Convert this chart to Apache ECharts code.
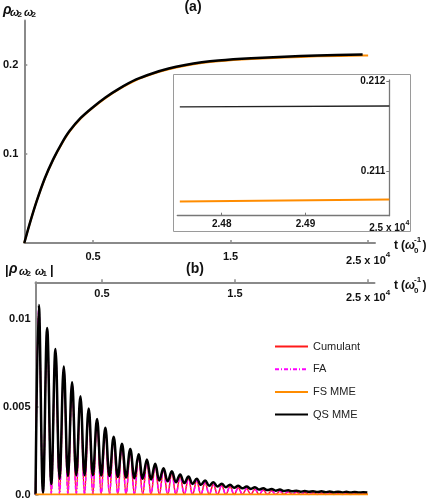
<!DOCTYPE html>
<html><head><meta charset="utf-8">
<script src="https://cdn.jsdelivr.net/npm/echarts@6/dist/echarts.min.js"></script>
<style>html,body{margin:0;padding:0;background:#fff}#c{width:432px;height:500px}</style>
</head><body><div id="c"></div>
<script>
// ---------- Panel (a): rho_{w2 w2} vs t (x 10^4) ----------
const aT   = [0, 0.04, 0.09, 0.15, 0.21, 0.27, 0.33, 0.41, 0.49, 0.59, 0.69, 0.81, 0.93, 1.05, 1.17, 1.29, 1.41, 1.65, 1.89, 2.13, 2.46];
const aQS  = [0, 0.022, 0.047, 0.073, 0.094, 0.1115, 0.126, 0.1405, 0.1515, 0.1635, 0.1735, 0.1835, 0.1905, 0.196, 0.2, 0.203, 0.205, 0.2075, 0.2093, 0.2106, 0.2117];
const aFST = [0, 0.04, 0.09, 0.15, 0.21, 0.27, 0.33, 0.41, 0.49, 0.59, 0.69, 0.81, 0.93, 1.05, 1.17, 1.29, 1.41, 1.65, 1.89, 2.13, 2.46, 2.50];
const aFS  = [0, 0.022, 0.047, 0.0725, 0.0934, 0.1108, 0.1253, 0.1398, 0.1508, 0.1628, 0.1728, 0.1827, 0.1897, 0.1951, 0.1991, 0.2021, 0.2041, 0.2066, 0.2084, 0.2097, 0.2106, 0.2107];
// inset
const insetT  = [2.475, 2.50];
const insetQS = [0.21172, 0.21173];
const insetFS = [0.21067, 0.21069];

// ---------- Panel (b): |rho_{w2 w1}| ----------
const peakT = [0.025, 0.0875, 0.15, 0.2125, 0.275, 0.3375, 0.4, 0.4625, 0.525, 0.5875, 0.65, 0.7125, 0.775, 0.8375, 0.9, 0.9625, 1.025, 1.0875, 1.15, 1.2125, 1.275, 1.3375, 1.4, 1.4625, 1.525, 1.5875, 1.65, 1.7125, 1.775, 1.8375, 1.9, 1.9625, 2.025, 2.0875, 2.15, 2.2125, 2.275, 2.3375, 2.4, 2.4625];
const troughT = [0.05625, 0.11875, 0.18125, 0.24375, 0.30625, 0.36875, 0.43125, 0.49375, 0.55625, 0.61875, 0.68125, 0.74375, 0.80625, 0.86875, 0.93125, 0.99375, 1.05625, 1.11875, 1.18125, 1.24375, 1.30625, 1.36875, 1.43125, 1.49375, 1.55625, 1.61875, 1.68125, 1.74375, 1.80625, 1.86875, 1.93125, 1.99375, 2.05625, 2.11875, 2.18125, 2.24375, 2.30625, 2.36875, 2.43125];
const qsPeak = [0.0108, 0.0095, 0.0083, 0.0073, 0.0064, 0.0056, 0.0049, 0.0043, 0.0038, 0.0033, 0.0029, 0.0026, 0.0023, 0.0020, 0.00175, 0.0015, 0.00132, 0.00114, 0.00102, 0.0009, 0.0008, 0.0007, 0.00062, 0.00056, 0.0005, 0.00045, 0.00042, 0.00036, 0.00032, 0.00028, 0.00024, 0.00022, 0.0002, 0.00019, 0.00018, 0.00017, 0.00016, 0.00015, 0.00014, 0.00013];
const qsTrough = [0.0001, 0.0006, 0.0009, 0.00105, 0.0011, 0.0011, 0.0011, 0.00108, 0.00105, 0.001, 0.00097, 0.00093, 0.0009, 0.00085, 0.0008, 0.00075, 0.0007, 0.00065, 0.0006, 0.00055, 0.0005, 0.00046, 0.00042, 0.00038, 0.00035, 0.00032, 0.00028, 0.00025, 0.00022, 0.0002, 0.00018, 0.00016, 0.00015, 0.00014, 0.00013, 0.00012, 0.00012, 0.00011, 0.00011];
const faPeak = [0.0107, 0.0094, 0.0082, 0.0072, 0.0063, 0.0055, 0.0048, 0.0042, 0.0037, 0.0032, 0.0028, 0.0025, 0.0022, 0.0019, 0.00165, 0.0014, 0.00122, 0.00104, 0.00092, 0.0008, 0.0007, 0.0006, 0.00052, 0.00046, 0.0004, 0.00035, 0.00031, 0.00027, 0.00023, 0.0002, 0.00017, 0.00015, 0.00013, 0.00011, 0.0001, 0.00009, 0.00008, 0.00007, 0.00006, 0.00005];
const cumPeak = [0.0107, 0.0094, 0.0082, 0.0072, 0.0063, 0.0055, 0.0048, 0.0042, 0.0037, 0.0032, 0.0028, 0.0025, 0.0022, 0.0019, 0.00165, 0.0014, 0.00121, 0.00103, 0.00091, 0.00079, 0.00069, 0.00059, 0.00051, 0.00045, 0.00039, 0.00034, 0.0003, 0.00026, 0.00022, 0.00019, 0.00016, 0.00014, 0.00012, 0.0001, 0.00009, 0.00008, 0.00007, 0.00006, 0.00005, 0.00004];
const fullTrough = 0;       // Cumulant and FA dip to zero between peaks
const bStart = [0, 0];
const bEndT = 2.495, qsEnd = 0.00012, faEnd = 0.00004;
const fsT = [0, 2.5], fsV = [0, 0];

const xTicksA = [0.5, 1.5, 2.5];
const yTicksA = [0.1, 0.2];
const xTicksIn = [2.48, 2.49, 2.5];
const yTicksIn = [0.211, 0.212];
const yTicksB = [0, 0.005, 0.01];
const legendNames = ['Cumulant', 'FA', 'FS MME', 'QS MME'];

function osc(peaks, troughs, endV) {
  const out = [bStart];
  for (let k = 0; k < peakT.length; k++) {
    out.push([peakT[k], peaks[k]]);
    if (k < troughT.length) out.push([troughT[k], Array.isArray(troughs) ? troughs[k] : troughs]);
  }
  out.push([bEndT, endV]);
  return out;
}
const zip = (xs, ys) => xs.map((x, i) => [x, ys[i]]);

const FONT = '"Liberation Sans", Arial, sans-serif';
const AX = '#8a8a8a';
const lab = (size) => ({ fontFamily: FONT, fontSize: size, fontWeight: 'bold', color: '#111' });
const rich = {
  m: { fontFamily: FONT, fontSize: 11, fontWeight: 'bold', color: '#111', lineHeight: 15, verticalAlign: 'bottom' },
  s: { fontFamily: FONT, fontSize: 8, fontWeight: 'bold', color: '#111', lineHeight: 8, verticalAlign: 'top' }
};
const richSmall = {
  m: { fontFamily: FONT, fontSize: 10, fontWeight: 'bold', color: '#111', lineHeight: 14, verticalAlign: 'bottom' },
  s: { fontFamily: FONT, fontSize: 7, fontWeight: 'bold', color: '#111', lineHeight: 7, verticalAlign: 'top' }
};
const tFmt = (v) => Math.abs(v - 2.5) < 1e-6 ? '{m|2.5 x 10}{s|4}' : v.toFixed(1);

const chart = echarts.init(document.getElementById('c'), null, { renderer: 'canvas' });

function txt(text, x, y, size, opts) {
  return Object.assign({ type: 'text', z: 50, style: Object.assign({
    text, x, y, fontFamily: FONT, fontSize: size, fontWeight: 'bold', fill: '#111',
    textAlign: 'left', textVerticalAlign: 'middle' }, opts || {}) });
}
function tLabel(y) {
  return [
    txt('t', 394, y, 12),
    txt('(', 401, y, 12),
    txt('ω', 405, y, 12, { fontStyle: 'italic' }),
    txt('0', 414, y + 5, 8),
    txt('-1', 414, y - 6, 8),
    txt(')', 422.5, y, 12)
  ];
}

const option = {
  animation: false,
  backgroundColor: '#fff',
  grid: [
    { left: 21, top: 20.5, width: 354, height: 222.5 },
    { left: 177.3, top: 79.9, width: 212, height: 135.8 },
    { left: 34.5, top: 282.3, width: 340, height: 212.2 }
  ],
  xAxis: [
    { gridIndex: 0, type: 'value', min: 0, max: 2.55, splitLine: { show: false },
      axisLine: { lineStyle: { color: AX, width: 2 } },
      axisTick: { show: true, inside: true, length: 3, customValues: xTicksA, lineStyle: { color: AX, width: 1.5 } },
      axisLabel: { customValues: xTicksA, margin: 8, formatter: tFmt, rich, ...lab(11) } },
    { gridIndex: 1, type: 'value', min: 2.4747, max: 2.5, splitLine: { show: false },
      axisLine: { onZero: false, lineStyle: { color: '#777', width: 1.3 } },
      axisTick: { show: true, inside: true, length: 3, customValues: xTicksIn, lineStyle: { color: '#777', width: 1 } },
      axisLabel: { customValues: xTicksIn, margin: 4, rich: richSmall, ...lab(10),
        formatter: (v) => Math.abs(v - 2.5) < 1e-6 ? '{m|2.5 x 10}{s|4}' : v.toFixed(2) } },
    { gridIndex: 2, type: 'value', position: 'top', min: 0, max: 2.549, splitLine: { show: false },
      axisLine: { onZero: false, lineStyle: { color: AX, width: 2 } },
      axisTick: { show: true, inside: false, length: 3, customValues: xTicksA, lineStyle: { color: AX, width: 1.5 } },
      axisLabel: { inside: true, customValues: xTicksA, margin: 6, formatter: tFmt, rich, ...lab(11) } }
  ],
  yAxis: [
    { gridIndex: 0, type: 'value', min: 0, max: 0.25, splitLine: { show: false },
      axisLine: { show: true, lineStyle: { color: AX, width: 2 } },
      axisTick: { show: true, inside: true, length: 3, customValues: yTicksA, lineStyle: { color: AX, width: 1.5 } },
      axisLabel: { customValues: yTicksA, margin: 6, formatter: (v) => v.toFixed(1), ...lab(11) } },
    { gridIndex: 1, type: 'value', position: 'right', min: 0.210511, max: 0.21202, splitLine: { show: false },
      axisLine: { show: true, onZero: false, lineStyle: { color: '#777', width: 1.3 } },
      axisTick: { show: true, inside: true, length: 3, customValues: yTicksIn, lineStyle: { color: '#777', width: 1 } },
      axisLabel: { inside: true, customValues: yTicksIn, margin: 4, formatter: (v) => v.toFixed(3), ...lab(10) } },
    { gridIndex: 2, type: 'value', min: 0, max: 0.0121, splitLine: { show: false },
      axisLine: { show: true, onZero: false, lineStyle: { color: AX, width: 2 } },
      axisTick: { show: true, inside: true, length: 3, customValues: yTicksB, lineStyle: { color: AX, width: 1.5 } },
      axisLabel: { customValues: yTicksB, margin: 5, ...lab(11),
        formatter: (v) => v === 0 ? '0.0' : (Math.abs(v - 0.005) < 1e-9 ? '0.005' : '0.01') } }
  ],
  legend: legendNames.map((n, i) => ({
    data: [n], left: 274, top: 341 + i * 22.7, orient: 'vertical', padding: 0, itemGap: 0,
    itemWidth: 33, itemHeight: 12, selectedMode: false,
    itemStyle: { opacity: 0 },
    textStyle: { fontFamily: FONT, fontSize: 11, color: '#222' }
  })),
  series: [
    { name: 'Cumulant', type: 'line', xAxisIndex: 2, yAxisIndex: 2, data: osc(cumPeak, fullTrough, faEnd),
      symbol: 'none', smooth: 0.4, lineStyle: { color: '#ff1a1a', width: 1.5 }, itemStyle: { color: '#ff1a1a' }, z: 3 },
    { name: 'FA', type: 'line', xAxisIndex: 2, yAxisIndex: 2, data: osc(faPeak, fullTrough, faEnd),
      symbol: 'none', smooth: 0.4, lineStyle: { color: '#ff00ff', width: 1.5, type: [4, 2, 1, 2] }, itemStyle: { color: '#ff00ff' }, z: 4 },
    { name: 'QS MME', type: 'line', xAxisIndex: 2, yAxisIndex: 2, data: osc(qsPeak, qsTrough, qsEnd),
      symbol: 'none', smooth: 0.4, lineStyle: { color: '#000', width: 2.5 }, itemStyle: { color: '#000' }, z: 5 },
    { name: 'FS MME', type: 'line', xAxisIndex: 2, yAxisIndex: 2, data: zip(fsT, fsV),
      symbol: 'none', lineStyle: { color: '#ff8c00', width: 2 }, itemStyle: { color: '#ff8c00' }, z: 6 },
    // panel (a)
    { name: 'a-FS', type: 'line', xAxisIndex: 0, yAxisIndex: 0, data: zip(aFST, aFS),
      symbol: 'none', smooth: 0.3, lineStyle: { color: '#ff8c00', width: 2 }, z: 3 },
    { name: 'a-QS', type: 'line', xAxisIndex: 0, yAxisIndex: 0, data: zip(aT, aQS),
      symbol: 'none', smooth: 0.3, lineStyle: { color: '#000', width: 2.5 }, z: 4 },
    // inset
    { name: 'i-FS', type: 'line', xAxisIndex: 1, yAxisIndex: 1, data: zip(insetT, insetFS),
      symbol: 'none', lineStyle: { color: '#ff8c00', width: 2 }, z: 3 },
    { name: 'i-QS', type: 'line', xAxisIndex: 1, yAxisIndex: 1, data: zip(insetT, insetQS),
      symbol: 'none', lineStyle: { color: '#222', width: 1.3 }, z: 4 }
  ],
  graphic: { elements: [
    { type: 'rect', z: 1, shape: { x: 173.5, y: 74.5, width: 237, height: 157 },
      style: { fill: 'none', stroke: '#9a9a9a', lineWidth: 1 } },
    txt('(a)', 193, 7, 14, { textAlign: 'center' }),
    txt('(b)', 195, 269, 14, { textAlign: 'center' }),
    // rho_{w2 w2}
    txt('ρ', 3, 10, 14, { fontStyle: 'italic' }),
    txt('ω', 10, 13, 11, { fontStyle: 'italic' }),
    txt('2', 17.5, 15, 8),
    txt('ω', 24, 13, 11, { fontStyle: 'italic' }),
    txt('2', 31.5, 15, 8),
    // |rho_{w2 w1}|
    txt('|', 5, 270, 13),
    txt('ρ', 9, 269, 14, { fontStyle: 'italic' }),
    txt('ω', 19, 272, 11, { fontStyle: 'italic' }),
    txt('2', 26.5, 274, 8),
    txt('ω', 35, 272, 11, { fontStyle: 'italic' }),
    txt('1', 42.5, 274, 8),
    txt('|', 50, 270, 13),
    ...tLabel(246),
    ...tLabel(286)
  ] }
};
chart.setOption(option);
</script></body></html>
